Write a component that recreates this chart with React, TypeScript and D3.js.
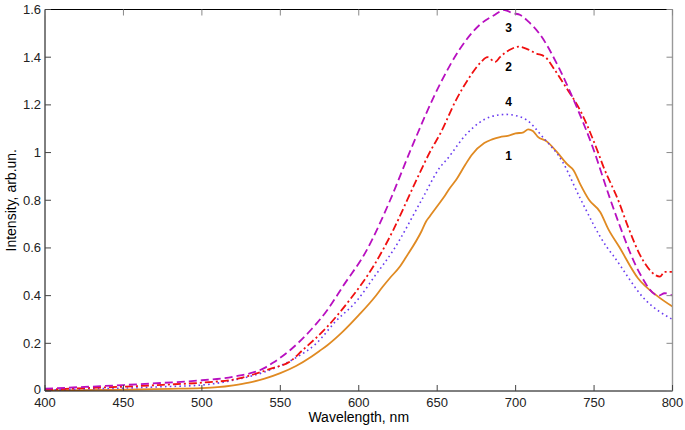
import React from "react";
import * as d3 from "d3";

const wl1 = [400, 420, 440, 460, 480, 500, 510, 520, 530, 540, 550, 560, 570, 575, 580, 590, 600, 610, 615, 620, 626, 630, 640, 643, 645, 650, 655, 658, 662, 668, 672, 680, 685, 690, 695, 700, 705, 708, 711, 714, 720, 726, 733, 737, 741, 747, 754, 759, 766, 778, 790, 800];
const v1 = [0.003, 0.004, 0.005, 0.007, 0.009, 0.012, 0.016, 0.024, 0.035, 0.052, 0.075, 0.105, 0.145, 0.168, 0.192, 0.25, 0.318, 0.392, 0.435, 0.475, 0.52, 0.56, 0.67, 0.712, 0.73, 0.775, 0.82, 0.85, 0.885, 0.95, 0.99, 1.04, 1.055, 1.065, 1.07, 1.08, 1.085, 1.097, 1.09, 1.067, 1.046, 1.005, 0.95, 0.925, 0.87, 0.8, 0.75, 0.68, 0.605, 0.473, 0.4, 0.354];

const wl2 = [400, 425, 450, 475, 500, 520, 545, 556, 564, 580, 594, 610, 622, 635, 646, 652, 662, 671, 678, 682, 687, 690, 696, 702, 707, 713, 719, 725, 731, 742, 752, 756, 766, 771, 781, 792, 795, 800];
const v2 = [0.006, 0.012, 0.018, 0.026, 0.035, 0.048, 0.096, 0.123, 0.17, 0.27, 0.38, 0.53, 0.675, 0.86, 1.01, 1.08, 1.22, 1.32, 1.38, 1.4, 1.38, 1.4, 1.43, 1.444, 1.435, 1.416, 1.4, 1.346, 1.285, 1.166, 1.01, 0.94, 0.79, 0.7, 0.55, 0.48, 0.5, 0.5];

const wl3 = [400, 425, 450, 475, 500, 520, 540, 545, 556, 570, 580, 590, 605, 620, 633, 652, 664, 677, 686, 693, 698, 703, 708, 715, 728, 739, 749, 760, 766, 779, 791, 795, 800];
const v3 = [0.01, 0.017, 0.025, 0.034, 0.045, 0.06, 0.097, 0.117, 0.17, 0.26, 0.34, 0.44, 0.59, 0.8, 1.01, 1.29, 1.43, 1.535, 1.575, 1.598, 1.585, 1.577, 1.55, 1.5, 1.35, 1.19, 1.025, 0.81, 0.7, 0.495, 0.4, 0.41, 0.4];

const wl4 = [400, 425, 450, 475, 500, 520, 540, 560, 573, 585, 599, 610, 622, 640, 652, 656, 669, 684, 694, 700, 707, 717, 730, 741, 758, 762, 783, 800];
const v4 = [0.004, 0.008, 0.012, 0.018, 0.025, 0.045, 0.08, 0.14, 0.2, 0.29, 0.38, 0.48, 0.59, 0.8, 0.94, 0.97, 1.08, 1.15, 1.16, 1.155, 1.137, 1.067, 0.96, 0.81, 0.605, 0.57, 0.38, 0.3];

const xTicks = [400, 450, 500, 550, 600, 650, 700, 750, 800];
const yTicks = [0, 0.2, 0.4, 0.6, 0.8, 1, 1.2, 1.4, 1.6];
const yTickLabels = ["0", "0.2", "0.4", "0.6", "0.8", "1", "1.2", "1.4", "1.6"];

const seriesLabels = ["1", "2", "3", "4"];
const labelWl = [700, 700, 700, 700];
const labelV = [0.97, 1.342, 1.507, 1.195];

export default function App() {
  const W = 685, H = 430;
  const L = 45, R = 672.5, T = 9.5, B = 391;
  const x = d3.scaleLinear().domain([400, 800]).range([L, R]);
  const y = d3.scaleLinear().domain([0, 1.6]).range([B, T]);
  const line = d3
    .line<[number, number]>()
    .x((d) => x(d[0]))
    .y((d) => y(d[1]))
    .curve(d3.curveMonotoneX);
  const mk = (w: number[], v: number[]) => line(w.map((a, i) => [a, v[i]] as [number, number])) || "";
  const font = "Arial, 'Liberation Sans', sans-serif";
  const tk = 6;
  return (
    <svg width={W} height={H} style={{ position: "absolute", left: 0, top: 0, background: "#fff" }}>
      <rect x={0} y={0} width={W} height={H} fill="#fff" />
      <defs>
        <clipPath id="pc">
          <rect x={L} y={T - 2} width={R - L} height={B - T + 2} />
        </clipPath>
      </defs>
      <g clipPath="url(#pc)" fill="none" strokeLinejoin="round">
        <path d={mk(wl1, v1)} stroke="#e08a22" strokeWidth={1.8} />
        <path d={mk(wl4, v4)} stroke="#6a3cf0" strokeWidth={1.6} strokeDasharray="1.6 3.2" />
        <path d={mk(wl2, v2)} stroke="#f01010" strokeWidth={1.8} strokeDasharray="8 3 2 3" />
        <path d={mk(wl3, v3)} stroke="#b810c0" strokeWidth={1.8} strokeDasharray="8 4" />
      </g>
      <line x1={L} y1={T} x2={R} y2={T} stroke="#000" strokeWidth={1} />
      <line x1={L} y1={B} x2={R} y2={B} stroke="#000" strokeWidth={1} />
      <line x1={L} y1={T} x2={L} y2={B} stroke="#000" strokeWidth={1} />
      <line x1={R} y1={T} x2={R} y2={B} stroke="#999" strokeWidth={1.4} />
      {xTicks.map((t) => (
        <g key={"x" + t}>
          <line x1={x(t)} y1={B} x2={x(t)} y2={B - tk} stroke="#444" />
          <line x1={x(t)} y1={T} x2={x(t)} y2={T + tk} stroke="#888" />
          <text x={x(t)} y={B + 15.5} textAnchor="middle" fontFamily={font} fontSize={13} fill="#222">
            {t}
          </text>
        </g>
      ))}
      {yTicks.map((t, i) => (
        <g key={"y" + t}>
          <line x1={L} y1={y(t)} x2={L + tk} y2={y(t)} stroke="#444" />
          <line x1={R} y1={y(t)} x2={R - tk} y2={y(t)} stroke="#888" />
          <text x={L - 4} y={y(t) + (t === 0 ? 2.5 : 4.5)} textAnchor="end" fontFamily={font} fontSize={13} fill="#222">
            {yTickLabels[i]}
          </text>
        </g>
      ))}
      {seriesLabels.map((s, i) => (
        <text key={"l" + s} x={x(labelWl[i]) - 7} y={y(labelV[i])} textAnchor="middle" fontFamily={font} fontSize={12} fontWeight="bold" fill="#000">
          {s}
        </text>
      ))}
      <text x={(L + R) / 2} y={422} textAnchor="middle" fontFamily={font} fontSize={14} fill="#000">
        Wavelength, nm
      </text>
      <text transform={`translate(16, ${(T + B) / 2}) rotate(-90)`} textAnchor="middle" fontFamily={font} fontSize={14} fill="#000">
        Intensity, arb.un.
      </text>
    </svg>
  );
}
